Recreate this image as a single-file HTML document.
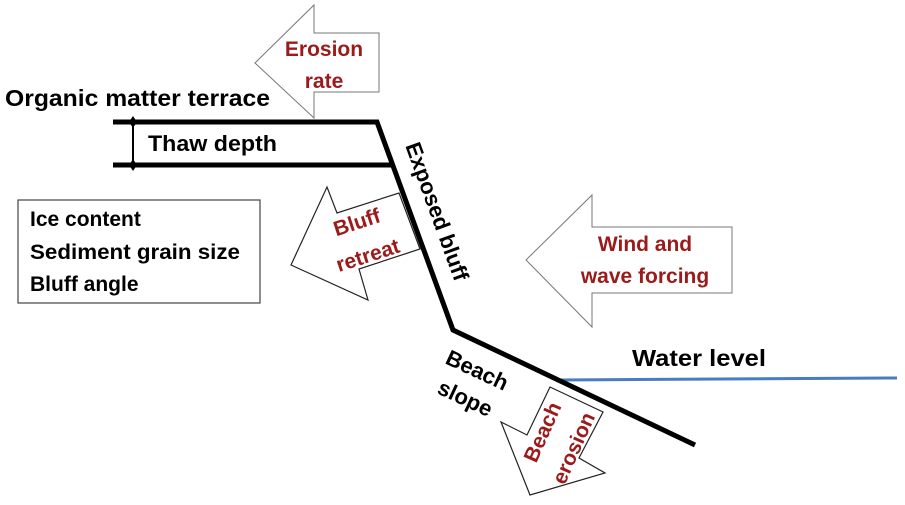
<!DOCTYPE html>
<html><head><meta charset="utf-8"><style>
html,body{margin:0;padding:0;background:#fff}
svg{display:block}
text{font-family:"Liberation Sans",sans-serif;font-weight:bold}
</style></head><body>
<svg width="905" height="505" viewBox="0 0 905 505" xmlns="http://www.w3.org/2000/svg">
<rect width="905" height="505" fill="#fff"/>
<line x1="560" y1="380" x2="897" y2="378" stroke="#4a7cc0" stroke-width="3"/>
<polygon points="255,63 314,5 314,33 379,33 379,92 314,92 314,118" fill="#fff" stroke="#777" stroke-width="1"/>
<polygon points="291,265 327,187 337,213 399,193 420,249 359,269 368,300" fill="#fff" stroke="#222" stroke-width="1.2"/>
<polygon points="530,495 501,422 527,435 550,387 603,412 579,458 605,473" fill="#fff" stroke="#222" stroke-width="1.2"/>
<polygon points="526,260 592,195 592,227 732,227 732,293 592,293 592,327" fill="#fff" stroke="#777" stroke-width="1"/>
<polyline points="113,122 377,122 453,330 695,445" fill="none" stroke="#000" stroke-width="5"/>
<line x1="113" y1="165" x2="392" y2="165" stroke="#000" stroke-width="5"/>
<line x1="133" y1="122" x2="133" y2="165" stroke="#000" stroke-width="2"/>
<polygon points="133,116 137,122 133,128 129,122" fill="#000"/>
<polygon points="133,159 137,165 133,171 129,165" fill="#000"/>
<rect x="18" y="200" width="242" height="103" fill="#fff" stroke="#444" stroke-width="1.2"/>
<g fill="#000">
<text x="5" y="106" font-size="23" textLength="265" lengthAdjust="spacingAndGlyphs">Organic matter terrace</text>
<text x="148" y="151" font-size="22" textLength="129" lengthAdjust="spacingAndGlyphs">Thaw depth</text>
<text x="30" y="226" font-size="21">Ice content</text>
<text x="30" y="259" font-size="21" textLength="210" lengthAdjust="spacingAndGlyphs">Sediment grain size</text>
<text x="30" y="291" font-size="21">Bluff angle</text>
<text x="632" y="366" font-size="23" textLength="134" lengthAdjust="spacingAndGlyphs">Water level</text>
<text transform="translate(430,214) rotate(70)" font-size="22" text-anchor="middle">Exposed bluff</text>
<text transform="translate(474,377) rotate(25)" font-size="22" text-anchor="middle">Beach</text>
<text transform="translate(462,405) rotate(25)" font-size="22" text-anchor="middle">slope</text>
</g>
<g font-size="21" fill="#9b1b1b" text-anchor="middle">
<text x="324" y="56">Erosion</text>
<text x="324" y="88">rate</text>
<text x="645" y="251">Wind and</text>
<text x="645" y="283">wave forcing</text>
<text transform="translate(359,229) rotate(-18)">Bluff</text>
<text transform="translate(370,262) rotate(-18)">retreat</text>
<text transform="translate(549,435) rotate(-66)">Beach</text>
<text transform="translate(580,451) rotate(-66)">erosion</text>
</g>
</svg>
</body></html>
